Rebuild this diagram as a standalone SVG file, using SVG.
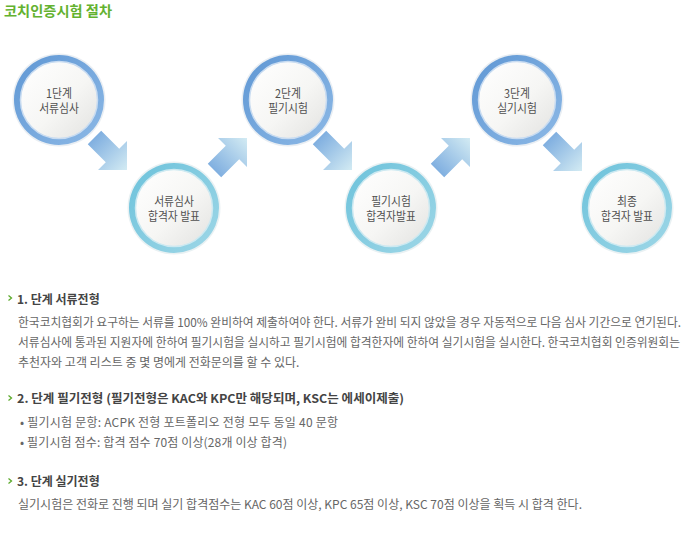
<svg xmlns="http://www.w3.org/2000/svg" width="694" height="545" viewBox="0 0 694 545">
<style>
.t{font-family:'Noto Sans CJK KR','Noto Sans',sans-serif}
.title{font-size:14px;font-weight:bold;fill:#63b22f}
.cl{font-size:12px;fill:#505050;text-anchor:middle}
.h{font-size:12px;font-weight:bold;fill:#444}
.b{font-size:12px;fill:#666}
.chev{fill:none;stroke:#5caa2c;stroke-width:1.3}
.arr{fill:url(#arrowG)}
</style>
<defs>
<linearGradient id="fillG" x1="0" y1="0" x2="1" y2="1">
<stop offset="0" stop-color="#ffffff"/><stop offset="0.55" stop-color="#f6f6f4"/><stop offset="1" stop-color="#e2e2e0"/>
</linearGradient>
<linearGradient id="ringBlue" x1="0" y1="0" x2="1" y2="1">
<stop offset="0" stop-color="#5f97d4"/><stop offset="1" stop-color="#8db9e6"/>
</linearGradient>
<linearGradient id="ringCyan" x1="0" y1="0" x2="1" y2="1">
<stop offset="0" stop-color="#6cc2db"/><stop offset="1" stop-color="#9fd7e7"/>
</linearGradient>
<linearGradient id="arrowG" x1="0" y1="0" x2="1" y2="0">
<stop offset="0" stop-color="#80afe0"/><stop offset="1" stop-color="#d3ebf3"/>
</linearGradient>
<polygon id="arrow" points="-46,-9.5 -20.5,-9.5 -20.5,-20.5 0,0 -20.5,20.5 -20.5,9.5 -46,9.5"/>
</defs>
<rect width="694" height="545" fill="#fff"/>
<text class="t title" x="4" y="16" textLength="108" lengthAdjust="spacingAndGlyphs">코치인증시험 절차</text>

<g id="connectors">
<use href="#arrow" class="arr" transform="translate(127,170) rotate(45)"/>
<use href="#arrow" class="arr" transform="translate(247,138) rotate(-45)"/>
<use href="#arrow" class="arr" transform="translate(352,170) rotate(45)"/>
<use href="#arrow" class="arr" transform="translate(470,138) rotate(-45)"/>
<use href="#arrow" class="arr" transform="translate(582,171) rotate(45)"/>
</g>

<g id="n1" transform="translate(59,100)">
<circle r="46.5" fill="#e9eef3"/><circle r="45" fill="url(#ringBlue)"/><circle r="38.5" fill="url(#fillG)" stroke="#c9dcf1" stroke-width="1.5"/>
<g transform="scale(0.9,1)"><text class="t cl" x="0" y="-2.5">1단계</text><text class="t cl" x="0" y="13">서류심사</text></g>
</g>
<g id="n2" transform="translate(174,208)">
<circle r="46.5" fill="#e9f1f3"/><circle r="45" fill="url(#ringCyan)"/><circle r="38.5" fill="url(#fillG)" stroke="#cde9f1" stroke-width="1.5"/>
<g transform="scale(0.9,1)"><text class="t cl" x="0" y="-2.5">서류심사</text><text class="t cl" x="0" y="13">합격자 발표</text></g>
</g>
<g id="n3" transform="translate(288,100)">
<circle r="46.5" fill="#e9eef3"/><circle r="45" fill="url(#ringBlue)"/><circle r="38.5" fill="url(#fillG)" stroke="#c9dcf1" stroke-width="1.5"/>
<g transform="scale(0.9,1)"><text class="t cl" x="0" y="-2.5">2단계</text><text class="t cl" x="0" y="13">필기시험</text></g>
</g>
<g id="n4" transform="translate(391,208)">
<circle r="46.5" fill="#e9f1f3"/><circle r="45" fill="url(#ringCyan)"/><circle r="38.5" fill="url(#fillG)" stroke="#cde9f1" stroke-width="1.5"/>
<g transform="scale(0.9,1)"><text class="t cl" x="0" y="-2.5">필기시험</text><text class="t cl" x="0" y="13">합격자발표</text></g>
</g>
<g id="n5" transform="translate(517,100)">
<circle r="46.5" fill="#e9eef3"/><circle r="45" fill="url(#ringBlue)"/><circle r="38.5" fill="url(#fillG)" stroke="#c9dcf1" stroke-width="1.5"/>
<g transform="scale(0.9,1)"><text class="t cl" x="0" y="-2.5">3단계</text><text class="t cl" x="0" y="13">실기시험</text></g>
</g>
<g id="n6" transform="translate(627,208)">
<circle r="46.5" fill="#e9f1f3"/><circle r="45" fill="url(#ringCyan)"/><circle r="38.5" fill="url(#fillG)" stroke="#cde9f1" stroke-width="1.5"/>
<g transform="scale(0.9,1)"><text class="t cl" x="0" y="-2.5">최종</text><text class="t cl" x="0" y="13">합격자 발표</text></g>
</g>

<g id="sections">
<path class="chev" d="M8.5,295.5 L11.5,298 L8.5,300.5"/>
<path class="chev" d="M8.5,395.5 L11.5,398 L8.5,400.5"/>
<path class="chev" d="M8.5,478.5 L11.5,481 L8.5,483.5"/>
<text class="t h" x="17" y="304">1. 단계 서류전형</text>
<text class="t b" x="18" y="327" textLength="663" lengthAdjust="spacingAndGlyphs">한국코치협회가 요구하는 서류를 100% 완비하여 제출하여야 한다. 서류가 완비 되지 않았을 경우 자동적으로 다음 심사 기간으로 연기된다.</text>
<text class="t b" x="18" y="347" textLength="662" lengthAdjust="spacingAndGlyphs">서류심사에 통과된 지원자에 한하여 필기시험을 실시하고 필기시험에 합격한자에 한하여 실기시험을 실시한다. 한국코치협회 인증위원회는</text>
<text class="t b" x="18" y="367">추천자와 고객 리스트 중 몇 명에게 전화문의를 할 수 있다.</text>
<text class="t h" x="17" y="403" textLength="387" lengthAdjust="spacingAndGlyphs">2. 단계 필기전형 (필기전형은 KAC와 KPC만 해당되며, KSC는 에세이제출)</text>
<text class="t b" x="20" y="427" textLength="318" lengthAdjust="spacing">• 필기시험 문항:  ACPK 전형 포트폴리오 전형 모두 동일 40 문항</text>
<text class="t b" x="20" y="447" textLength="267" lengthAdjust="spacing">• 필기시험 점수:  합격 점수 70점 이상(28개 이상 합격)</text>
<text class="t h" x="17" y="486">3. 단계 실기전형</text>
<text class="t b" x="18" y="509" textLength="564" lengthAdjust="spacingAndGlyphs">실기시험은 전화로 진행 되며 실기 합격점수는 KAC 60점 이상, KPC 65점 이상, KSC 70점 이상을 획득 시 합격 한다.</text>
</g>
</svg>
